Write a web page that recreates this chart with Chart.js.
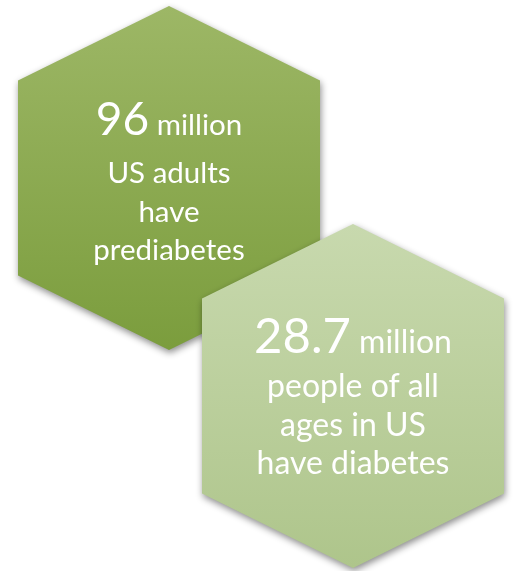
<!DOCTYPE html>
<html>
<head>
<meta charset="utf-8">
<script src="https://cdn.jsdelivr.net/npm/chart.js@4/dist/chart.umd.min.js"></script>
<style>
    html, body { margin: 0; padding: 0; background: #ffffff; }
    #contenitore { width: 514px; height: 571px; }
</style>
</head>
<body>
<div id="contenitore"><canvas id="grafico-esagoni"></canvas></div>
<script>
// dati
var categorie = ['Prediabetes', 'Diabetes'];
var valori = [96, 28.7];
var unita = ['million', 'million'];
var righeTesto = [
    ['US adults', 'have', 'prediabetes'],
    ['people of all', 'ages in US', 'have diabetes']
];

// stile
var coloreAlto = ['#9db766', '#c8d9ae'];
var coloreBasso = ['#7b9d3d', '#aec58b'];
var fontNumero = [46, 49];
var fontTesto = [29.5, 32];
var spostamentoRighe = [5, 1];
var font = 'Lato, "Open Sans", sans-serif';

var pluginEsagoni = {
    id: 'esagoni',
    afterDraw: function (chart) {
        var ctx = chart.ctx;
        var punti = chart.getDatasetMeta(0).data;
        var raggio = 172;      // vertice alto/basso
        var mezzaLarg = 151;   // meta larghezza
        var lato = 97.5;       // meta lato verticale

        for (var i = 0; i < punti.length; i++) {
            var cx = punti[i].x;
            var cy = punti[i].y;

            ctx.save();
            ctx.beginPath();
            ctx.moveTo(cx, cy - raggio);
            ctx.lineTo(cx + mezzaLarg, cy - lato);
            ctx.lineTo(cx + mezzaLarg, cy + lato);
            ctx.lineTo(cx, cy + raggio);
            ctx.lineTo(cx - mezzaLarg, cy + lato);
            ctx.lineTo(cx - mezzaLarg, cy - lato);
            ctx.closePath();
            var grad = ctx.createLinearGradient(0, cy - raggio, 0, cy + raggio);
            grad.addColorStop(0, coloreAlto[i]);
            grad.addColorStop(1, coloreBasso[i]);
            ctx.fillStyle = grad;
            ctx.shadowColor = 'rgba(0, 0, 0, 0.45)';
            ctx.shadowBlur = 7;
            ctx.shadowOffsetX = 1;
            ctx.shadowOffsetY = 3;
            ctx.fill();
            ctx.restore();

            // testo
            ctx.save();
            ctx.fillStyle = '#ffffff';
            ctx.textBaseline = 'alphabetic';
            ctx.textAlign = 'left';
            var numero = String(valori[i]);
            var parola = ' ' + unita[i];
            ctx.font = fontNumero[i] + 'px ' + font;
            var wNum = ctx.measureText(numero).width;
            ctx.font = fontTesto[i] + 'px ' + font;
            var wPar = ctx.measureText(parola).width;
            var x0 = cx - (wNum + wPar) / 2;
            var yBig = cy - 43;
            ctx.font = fontNumero[i] + 'px ' + font;
            ctx.fillText(numero, x0, yBig);
            ctx.font = fontTesto[i] + 'px ' + font;
            ctx.fillText(parola, x0 + wNum, yBig);

            ctx.textAlign = 'center';
            for (var r = 0; r < righeTesto[i].length; r++) {
                ctx.fillText(righeTesto[i][r], cx, cy + spostamentoRighe[i] + r * 38.5);
            }
            ctx.restore();
        }
    }
};

var ctx = document.getElementById('grafico-esagoni');
var chart = new Chart(ctx, {
    type: 'line',
    data: {
        labels: categorie,
        datasets: [{
            label: 'US adults (million)',
            data: valori,
            showLine: false,
            pointRadius: 0,
            pointHoverRadius: 0
        }]
    },
    options: {
        responsive: true,
        maintainAspectRatio: false,
        animation: false,
        layout: { padding: { left: 169, right: 161, top: 0, bottom: 0 } },
        plugins: {
            legend: { display: false },
            tooltip: { enabled: false }
        },
        scales: {
            x: { display: false, offset: false },
            y: { display: false, min: -25.3, max: 150.95 }
        }
    },
    plugins: [pluginEsagoni]
});
</script>
</body>
</html>
